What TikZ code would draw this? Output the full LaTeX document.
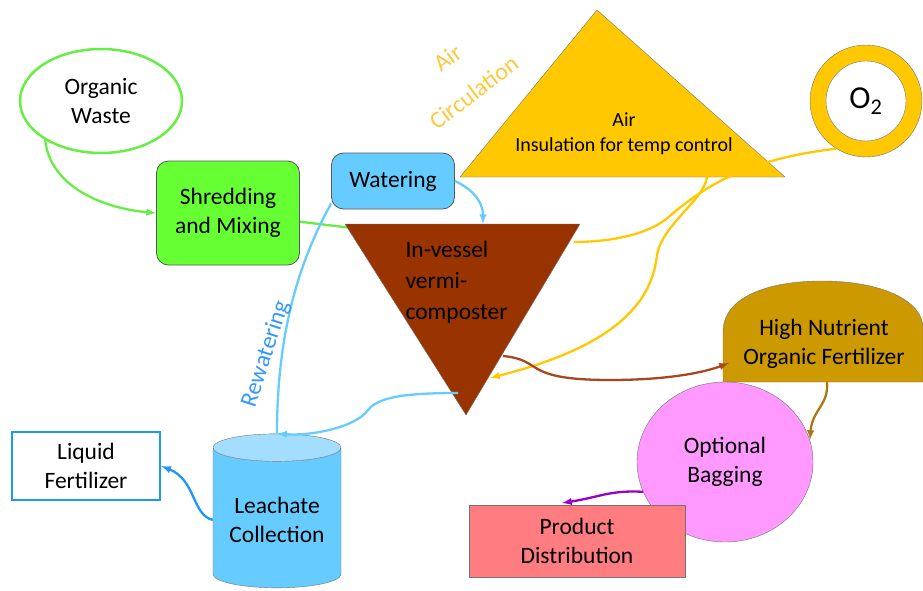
\documentclass[tikz,border=0pt]{standalone}
\usepackage{fontspec}
\setmainfont{Carlito}
\usetikzlibrary{shapes.geometric}
\usetikzlibrary{arrows}
\usetikzlibrary{calc}

\definecolor{wastegreen}{HTML}{66EE44}
\definecolor{shredgreen}{HTML}{66FF33}
\definecolor{waterblue}{HTML}{66CCFF}
\definecolor{lighttop}{HTML}{A3DDFF}
\definecolor{liquidblue}{HTML}{1E96FF}
\definecolor{airgold}{HTML}{FFC800}
\definecolor{airtext}{HTML}{FFC83C}
\definecolor{vessel}{HTML}{993300}
\definecolor{vesselarrow}{HTML}{A8461F}
\definecolor{nutrient}{HTML}{CC9900}
\definecolor{nutrientarrow}{HTML}{AA7711}
\definecolor{bagpink}{HTML}{FF99FF}
\definecolor{productred}{HTML}{FF7C80}
\definecolor{bagpurple}{HTML}{9900CC}
\definecolor{rewater}{HTML}{3399FF}

\newcommand{\lblfont}{\fontsize{23.5}{29}\selectfont}
\tikzset{box/.style={draw=black!65, thick, rounded corners=12pt, align=center, font=\lblfont}}
\tikzset{flow/.style={line width=2.3pt, -latex}}
\tikzset{pipe/.style={line width=2.3pt}}

\begin{document}
\begin{tikzpicture}[x=1pt,y=-1pt]
  \useasboundingbox (0,0) rectangle (923,591);

  % links that lie under the shapes
  \draw[pipe, wastegreen] (228,213) -- (352,228);

  % inputs
  \node[ellipse, draw=wastegreen, line width=2.5pt, fill=white, minimum width=162pt,
        minimum height=104pt, align=center, font=\lblfont] (waste) at (101,101) {Organic\\Waste};
  \node[box, fill=shredgreen, minimum width=143pt, minimum height=104pt] (shred) at (228,213) {Shredding\\and Mixing};
  \node[box, fill=waterblue, minimum width=123pt, minimum height=56pt] (water) at (393,181) {Watering};

  % air insulation
  \coordinate (air-l) at (460,177);
  \coordinate (air-t) at (597,10);
  \coordinate (air-r) at (785,177);
  \coordinate (air-out) at (707,177);
  \filldraw[fill=airgold, draw=black!55] (air-l) -- (air-t) -- (air-r) -- cycle;
  \node[align=center, font=\fontsize{20}{25}\selectfont] (airlab) at (624,134) {Air\\Insulation for temp control};
  \node[text=airtext, rotate=37, align=center, font=\fontsize{24}{43}\selectfont] (aircirc) at (461,75) {Air\\Circulation};

  % oxygen
  \node[circle, fill=airgold, draw=black!55, minimum size=112pt] (oxy) at (866,101) {};
  \node[circle, fill=white, draw=black!55, minimum size=80pt, inner sep=0pt,
        font=\fontsize{32}{36}\selectfont] (oxy-in) at (oxy) {O\textsubscript{2}};

  % vermi-composter
  \coordinate (vc-tl) at (345,224);
  \coordinate (vc-tr) at (580,224);
  \coordinate (vc-b) at (466,415);
  \coordinate (vc-top) at (483,224);
  \coordinate (vc-right) at (574,242);
  \coordinate (vc-in) at (490,378);
  \coordinate (vc-out) at (503,356);
  \coordinate (vc-drain) at (458,393);
  \filldraw[fill=vessel, draw=black!55] (vc-tl) -- (vc-tr) -- (vc-b) -- cycle;
  \node[anchor=west, align=left, font=\fontsize{23.5}{31}\selectfont] (vclab) at (402,282) {In-vessel\\vermi-\\composter};

  % products
  \coordinate (nut-in) at (729,363);
  \coordinate (nut-out) at (827,382);
  \filldraw[fill=nutrient, draw=black!55] (723,382) -- (723,332) .. controls (723,296) and (770,281) .. (822,281)
    .. controls (880,281) and (923,300) .. (923,328) -- (923,382) -- cycle;
  \node[align=center, font=\lblfont] (nutlab) at (824,344) {High Nutrient\\Organic Fertilizer};

  \node[ellipse, fill=bagpink, draw=black!55, minimum width=176pt, minimum height=160pt,
        align=center, font=\lblfont] (bag) at (725,462) {Optional\\Bagging};
  \node[rectangle, fill=productred, draw=black!55, minimum width=216pt, minimum height=72pt,
        align=center, font=\lblfont] (product) at (577,541) {Product\\Distribution};

  % leachate
  \node[cylinder, shape border rotate=90, shape aspect=0.27, draw=black!55,
        cylinder uses custom fill, cylinder body fill=waterblue, cylinder end fill=lighttop,
        minimum width=128pt, minimum height=154pt, align=center, font=\lblfont] (leach) at (277,520) {Leachate\\Collection};
  \node[rectangle, draw=liquidblue, line width=2.5pt, fill=white, minimum width=148pt,
        minimum height=68pt, align=center, font=\lblfont] (liquid) at (86,466) {Liquid\\Fertilizer};

  % connectors
  \draw[flow, wastegreen] (waste.215) .. controls (50,185) and (100,208) .. (shred.west);
  \draw[flow, waterblue] (water.east) .. controls (470,188) and (483,200) .. (vc-top);
  \draw[pipe, waterblue] (water.200) .. controls (300,260) and (277,330) .. (leach.north);
  \node[text=rewater, rotate=72, font=\fontsize{24}{28}\selectfont] (rewlab) at (266,354) {Rewatering};
  \draw[flow, waterblue] (vc-drain) .. controls (400,393) and (378,398) .. (368,410)
    .. controls (355,428) and (310,436) .. (leach.north);
  \draw[flow, liquidblue] (leach.west) .. controls (192,515) and (196,480) .. (liquid.east);

  \draw[pipe, airgold] (oxy.238) .. controls (740,160) and (700,190) .. (665,220)
    .. controls (640,238) and (600,242) .. (vc-right);
  \draw[flow, airgold] (air-out) .. controls (704,200) and (662,225) .. (657,255)
    .. controls (652,300) and (620,345) .. (vc-in);

  \draw[flow, vesselarrow] (vc-out) .. controls (545,360) and (520,380) .. (610,380)
    .. controls (670,380) and (705,372) .. (nut-in);
  \draw[flow, nutrientarrow] (nut-out) .. controls (829,405) and (812,410) .. (810,440);
  \draw[flow, bagpurple] (bag.200) .. controls (610,490) and (600,497) .. (562,503);
\end{tikzpicture}
\end{document}
